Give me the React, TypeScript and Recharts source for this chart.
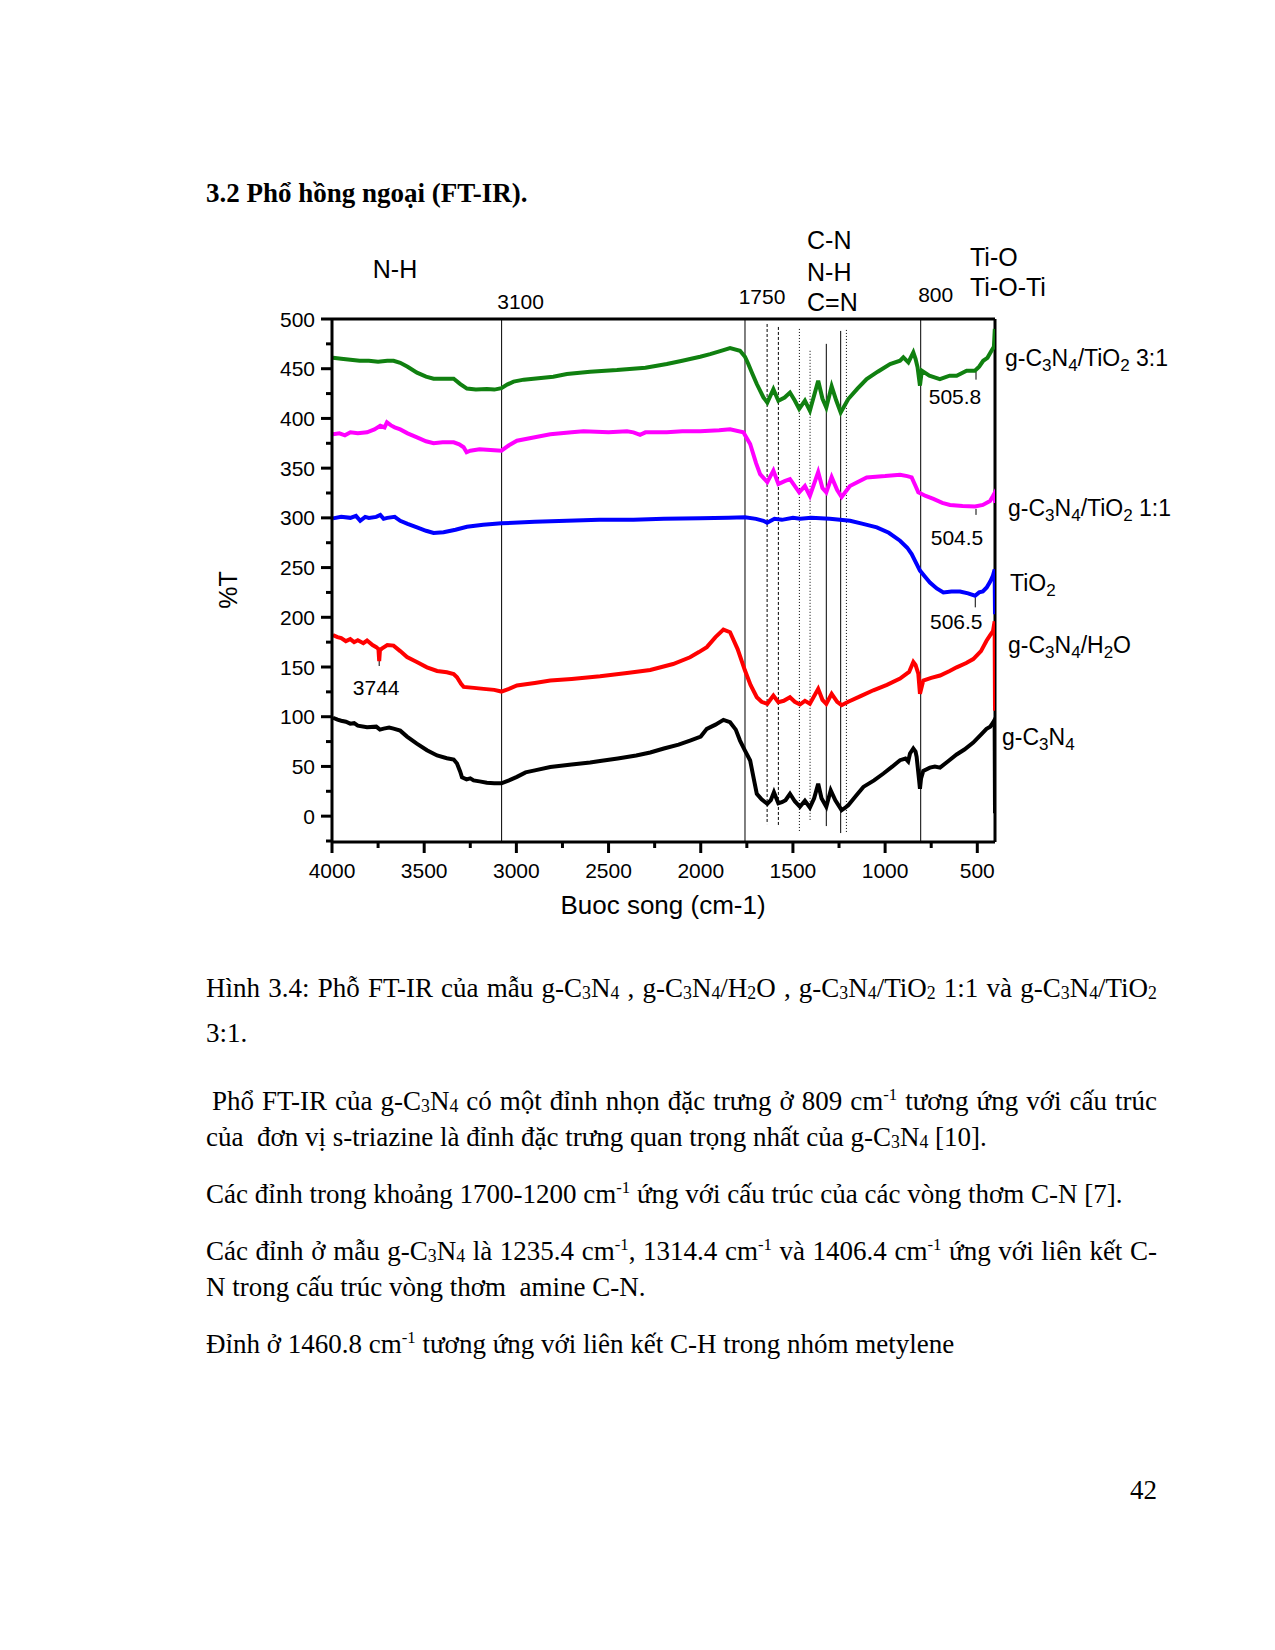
import React from 'react';
import { LineChart, Line, XAxis, YAxis, ReferenceLine, ReferenceDot } from 'recharts';

// wavenumber (cm-1), %T
const gc3n4: [number, number][] = [
  [3995, 99], [3970, 97], [3950, 96], [3925, 95], [3901, 93], [3880, 93.5], [3860, 91], [3810, 89.4], [3760, 90],
  [3740, 87], [3720, 88], [3690, 89], [3666, 88], [3630, 86],
  [3593, 80], [3540, 73], [3485, 66.3], [3430, 61], [3377, 58.3], [3340, 57], [3322, 53], [3305, 45], [3295, 39],
  [3270, 37], [3250, 38], [3232, 36], [3200, 35], [3160, 33.6], [3120, 33], [3081, 33], [3040, 36], [2997, 39.5],
  [2950, 44], [2900, 46], [2816, 49.5], [2700, 52], [2600, 54], [2546, 55.5], [2450, 58], [2350, 61], [2274, 64],
  [2200, 68], [2120, 72], [2058, 76], [2000, 80], [1967, 87.8], [1920, 92], [1877, 96.8], [1841, 94.5], [1810, 87],
  [1787, 76], [1760, 66], [1732, 56], [1715, 40], [1696, 22.5], [1670, 17], [1650, 14], [1639, 12.4], [1620, 16],
  [1603, 24], [1590, 18], [1579, 13], [1560, 14], [1540, 16], [1516, 22.5], [1490, 15], [1462, 9.4], [1435, 15.5],
  [1408, 8.7], [1385, 18], [1363, 32.6], [1345, 18], [1319, 9.4], [1295, 26], [1270, 16], [1236, 6], [1220, 8],
  [1200, 11], [1160, 20], [1118, 29.4], [1060, 36], [1009, 42.9], [960, 50], [919, 56.3], [890, 58], [875, 55],
  [865, 63], [847, 68], [835, 65], [829, 59.6], [815, 35], [811, 27.5], [805, 38], [793, 45.5], [757, 48.8],
  [730, 50], [702, 48.8], [660, 55], [612, 62], [570, 67], [522, 74], [480, 82], [450, 87.8], [430, 90],
  [415, 94], [406, 97], [404, 3],
];

const gc3n4H2o: [number, number][] = [
  [3995, 182], [3970, 180], [3950, 179], [3925, 176], [3901, 178], [3880, 175], [3860, 177], [3830, 174],
  [3810, 176.6], [3780, 172], [3760, 170], [3748, 168],
  [3744, 156], [3740, 167], [3730, 168.5], [3700, 172], [3666, 171.5], [3630, 166], [3593, 160], [3540, 155],
  [3485, 149.7], [3430, 146], [3377, 144.7], [3340, 143], [3322, 139.7], [3300, 133], [3286, 130], [3230, 129],
  [3178, 128], [3120, 127], [3081, 125.3], [3040, 128], [2997, 131.4], [2900, 134], [2816, 136.4], [2700, 138],
  [2546, 140.7], [2400, 144], [2274, 147], [2150, 153], [2058, 159.8], [2010, 165], [1967, 170], [1920, 180],
  [1877, 187.6], [1841, 185], [1800, 168], [1760, 146.4], [1730, 132], [1696, 119.6], [1670, 115], [1639, 113],
  [1606, 121.3], [1579, 114.6], [1550, 116], [1516, 119.6], [1490, 115], [1462, 112.3], [1435, 116], [1408, 113],
  [1363, 128], [1340, 117], [1319, 113], [1290, 123], [1260, 115], [1236, 111.6], [1200, 115], [1130, 121],
  [1064, 126.6], [990, 132], [919, 138.3], [870, 145], [847, 155], [835, 152], [820, 143.3], [811, 123],
  [793, 136.4], [750, 139], [702, 141.4], [650, 146], [612, 149.7], [560, 154], [522, 158], [480, 166],
  [450, 176.4], [430, 182], [415, 186], [406, 196], [404, 106],
];

const tio2: [number, number][] = [
  [3995, 299.5], [3950, 301], [3900, 300], [3870, 302], [3847, 297], [3820, 301], [3800, 300], [3760, 301],
  [3738, 303], [3720, 299], [3700, 300],
  [3660, 301], [3630, 297], [3590, 294], [3539, 290.5], [3490, 287], [3449, 284.8], [3395, 285.5], [3330, 288],
  [3268, 291], [3180, 293], [3081, 294.5], [2900, 296], [2726, 297], [2550, 298], [2365, 298], [2200, 299],
  [2003, 299.5], [1850, 300], [1760, 300.5], [1700, 299], [1660, 297], [1640, 295], [1600, 299], [1560, 298],
  [1500, 300], [1460, 299], [1400, 300], [1300, 299], [1190, 297], [1120, 294], [1045, 290.4], [980, 285],
  [919, 277], [880, 270], [856, 263.6], [830, 254], [811, 247], [780, 240], [757, 235], [720, 229], [684, 225],
  [640, 226], [594, 226], [550, 224], [512, 221.7], [490, 225], [470, 226], [449, 230], [430, 236], [415, 242],
  [406, 248], [404, 203],
];

const gc3n4Tio2_11: [number, number][] = [
  [3995, 384], [3960, 385], [3930, 383], [3900, 386], [3860, 385], [3810, 386], [3770, 389], [3738, 392.6],
  [3715, 391], [3702, 396], [3680, 393], [3660, 391], [3630, 389], [3590, 385], [3539, 381], [3490, 377],
  [3449, 375], [3400, 376], [3340, 376], [3310, 374], [3286, 371], [3270, 366], [3250, 367.5], [3200, 369],
  [3160, 368.5], [3120, 368], [3081, 367.5], [3040, 373], [2997, 377.6], [2900, 381], [2816, 384], [2700, 386],
  [2636, 387], [2500, 386], [2400, 387], [2365, 386], [2329, 383.5], [2300, 386], [2184, 386], [2100, 387],
  [2003, 387], [1900, 388], [1841, 389], [1769, 386], [1732, 374.3], [1700, 355], [1678, 344], [1639, 336],
  [1606, 347.5], [1579, 334], [1545, 337], [1516, 339], [1466, 325.7], [1435, 332], [1408, 322], [1363, 346],
  [1340, 330], [1319, 325.7], [1290, 341], [1260, 328], [1236, 321], [1191, 332], [1100, 340.7], [1000, 342],
  [919, 343.4], [880, 342], [856, 340.7], [835, 332], [820, 325.7], [780, 322], [738, 319], [690, 315],
  [648, 313], [580, 312], [512, 311.4], [470, 313], [431, 317], [415, 322], [406, 325], [404, 315],
];

const gc3n4Tio2_31: [number, number][] = [
  [3995, 461], [3950, 460], [3900, 459], [3850, 458], [3800, 458], [3750, 457], [3700, 458], [3666, 458],
  [3630, 456], [3590, 452], [3539, 446], [3490, 442], [3449, 440], [3400, 440], [3340, 440], [3304, 434.6],
  [3268, 430], [3220, 429], [3160, 429.5], [3120, 429], [3081, 430.5], [3050, 434], [3015, 437], [2960, 439],
  [2907, 440], [2800, 442], [2726, 444.6], [2600, 447], [2455, 448.6], [2300, 451], [2184, 454.7], [2100, 458],
  [2058, 459.7], [2003, 462], [1949, 464.7], [1890, 468], [1841, 470.7], [1787, 468], [1760, 462], [1742, 454.7],
  [1720, 445], [1696, 434.6], [1660, 421.2], [1639, 416], [1606, 429.5], [1579, 417.8], [1545, 421], [1516, 426],
  [1490, 418], [1466, 409.5], [1435, 417.8], [1408, 407.8], [1363, 437.9], [1340, 420], [1319, 411], [1290, 432.3],
  [1265, 418], [1241, 406], [1200, 419.5], [1150, 430], [1100, 439.6], [1040, 447], [973, 454.7], [919, 458],
  [901, 461.4], [874, 456.4], [847, 466.4], [835, 460], [824, 451.4], [811, 433], [801, 448], [760, 443],
  [703, 439.6], [650, 443], [612, 443], [558, 448], [513, 448], [490, 452], [468, 458], [445, 461], [423, 468],
  [410, 472], [405, 490], [404, 478],
];

const xTicks = [4000, 3750, 3500, 3250, 3000, 2750, 2500, 2250, 2000, 1750, 1500, 1250, 1000, 750, 500];
const xLabels = [4000, 3500, 3000, 2500, 2000, 1500, 1000, 500];
const yTicks = [-25, 0, 25, 50, 75, 100, 125, 150, 175, 200, 225, 250, 275, 300, 325, 350, 375, 400, 425, 450, 475, 500];
const yLabels = [0, 50, 100, 150, 200, 250, 300, 350, 400, 450, 500];

// marked band positions
const fullLines = [3080, 1760, 807];
const bandLines: [number, number, number][] = [
  [1640, 495, -8], [1579, 492, -10], [1465, 490, -15], [1407, 468, -5], [1319, 475, -10], [1241, 488, -17], [1210, 489, -16],
];
const bandDash = ['3 2', '3 2', '1 2', '1 2', undefined, undefined, '1 2'];
const topNotes: [number, string][] = [[3080, '3100'], [1760, '1750'], [807, '800']];
const peakNotes: [number, number, number, string][] = [
  [507, 447, 439, '505.8'], [507, 309, 303, '504.5'], [511, 220, 210, '506.5'], [3744, 159, 151, '3744'],
];

const sans = '"Liberation Sans", Arial, Helvetica, sans-serif';
const serif = '"Liberation Serif", "Times New Roman", serif';

const toXY = (arr: [number, number][]) => arr.map(([x, y]) => ({ x, y }));

const XTick = (props: any) => {
  const { x, y, payload } = props;
  const major = xLabels.includes(payload.value);
  return (
    <g>
      <line x1={x} x2={x} y1={y} y2={y + (major ? 11 : 6)} stroke="#000" strokeWidth={3} />
      {major && (
        <text x={x} y={y + 36} textAnchor="middle" fontSize={21} fontFamily={sans} fill="#000">
          {payload.value}
        </text>
      )}
    </g>
  );
};

const YTick = (props: any) => {
  const { x, y, payload } = props;
  const major = yLabels.includes(payload.value);
  return (
    <g>
      <line x1={x} x2={x - (major ? 11 : 6)} y1={y} y2={y} stroke="#000" strokeWidth={3} />
      {major && (
        <text x={x - 17} y={y + 7.5} textAnchor="end" fontSize={21} fontFamily={sans} fill="#000">
          {payload.value}
        </text>
      )}
    </g>
  );
};

const noteLabel = (text: string, dx: number, dy: number) => (props: any) => {
  const vb = props.viewBox || {};
  return (
    <text x={(vb.x || 0) + dx} y={(vb.y || 0) + dy} textAnchor="middle" fontSize={21} fontFamily={sans} fill="#000">
      {text}
    </text>
  );
};

const topOffsets = [[19, -10.5], [17, -15], [15, -17.5]];
const peakOffsets = [[-21, 24.5], [-19, 30], [-19, 22], [-3, 29]];

const Sub = ({ children }: any) => (
  <sub style={{ fontSize: '0.74em', verticalAlign: '-0.35em', lineHeight: 0 }}>{children}</sub>
);
const SmallSub = ({ children }: any) => (
  <sub style={{ fontSize: '0.66em', verticalAlign: '-0.15em', lineHeight: 0 }}>{children}</sub>
);
const Sup = ({ children }: any) => (
  <sup style={{ fontSize: '0.62em', verticalAlign: '0.55em', lineHeight: 0 }}>{children}</sup>
);

const Tag = ({ x, y, size, center, children }: any) => (
  <div
    style={{
      position: 'absolute',
      left: x - 8,
      top: y - 8,
      transform: `translate(${center ? '-50%' : '0'}, -50%)`,
      fontSize: size,
      lineHeight: 1,
      fontFamily: sans,
      whiteSpace: 'nowrap',
      color: '#000',
    }}
  >
    {children}
  </div>
);

const TextLine = ({ y, justify, bold, indent, children }: any) => (
  <div
    style={{
      position: 'absolute',
      left: 206 - 8 + (indent || 0),
      top: y - 8,
      width: 951 - (indent || 0),
      transform: 'translateY(-50%)',
      fontFamily: serif,
      fontSize: 27,
      fontWeight: bold ? 'bold' : 'normal',
      lineHeight: 1,
      textAlign: justify ? 'justify' : 'left',
      textAlignLast: justify ? 'justify' : 'auto',
      color: '#000',
    }}
  >
    {children}
  </div>
);

const C3N4 = () => (
  <>
    C<SmallSub>3</SmallSub>N<SmallSub>4</SmallSub>
  </>
);

export default function App() {
  return (
    <div style={{ position: 'relative', width: 1259, height: 1634, background: '#fff' }}>
      <TextLine y={193} bold>3.2 Phổ hồng ngoại (FT-IR).</TextLine>

      <div style={{ position: 'absolute', left: 0, top: 0 }}>
        <LineChart width={1259} height={1000} margin={{ top: 311, right: 272, bottom: 136, left: 264 }}>
          <XAxis
            dataKey="x"
            type="number"
            domain={[404, 4000]}
            reversed
            allowDataOverflow
            ticks={xTicks}
            interval={0}
            tickSize={0}
            tickMargin={0}
            tickLine={false}
            tick={<XTick />}
            axisLine={{ stroke: '#000', strokeWidth: 3 }}
            height={30}
          />
          <YAxis
            type="number"
            domain={[-26, 500]}
            allowDataOverflow
            ticks={yTicks}
            interval={0}
            tickSize={0}
            tickMargin={0}
            tickLine={false}
            tick={<YTick />}
            axisLine={{ stroke: '#000', strokeWidth: 3 }}
            width={60}
          />
          <ReferenceLine y={500} stroke="#000" strokeWidth={3} />
          <ReferenceLine x={404} stroke="#000" strokeWidth={3} />
          {fullLines.map((v) => (
            <ReferenceLine key={'f' + v} x={v} stroke="#000" strokeWidth={1} />
          ))}
          {bandLines.map(([v, y1, y2], i) => (
            <ReferenceLine
              key={'b' + v}
              segment={[{ x: v, y: y1 }, { x: v, y: y2 }]}
              stroke="#000"
              strokeWidth={1}
              strokeDasharray={bandDash[i]}
            />
          ))}
          {peakNotes.map(([v, y1, y2]) => (
            <ReferenceLine key={'p' + v + y1} segment={[{ x: v, y: y1 }, { x: v, y: y2 }]} stroke="#000" strokeWidth={1} />
          ))}
          <Line data={toXY(gc3n4)} dataKey="y" stroke="#000000" strokeWidth={4} dot={false} isAnimationActive={false} />
          <Line data={toXY(gc3n4H2o)} dataKey="y" stroke="#ff0000" strokeWidth={4} dot={false} isAnimationActive={false} />
          <Line data={toXY(tio2)} dataKey="y" stroke="#0000ff" strokeWidth={4} dot={false} isAnimationActive={false} />
          <Line data={toXY(gc3n4Tio2_11)} dataKey="y" stroke="#ff00ff" strokeWidth={4} dot={false} isAnimationActive={false} />
          <Line data={toXY(gc3n4Tio2_31)} dataKey="y" stroke="#108010" strokeWidth={4} dot={false} isAnimationActive={false} />
          {topNotes.map(([v, t], i) => (
            <ReferenceDot
              key={'t' + v}
              x={v}
              y={500}
              r={0}
              ifOverflow="visible"
              fill="none"
              stroke="none"
              label={noteLabel(t, topOffsets[i][0], topOffsets[i][1])}
            />
          ))}
          {peakNotes.map(([v, , y2, t], i) => (
            <ReferenceDot
              key={'n' + t}
              x={v}
              y={y2}
              r={0}
              ifOverflow="visible"
              fill="none"
              stroke="none"
              label={noteLabel(t, peakOffsets[i][0], peakOffsets[i][1])}
            />
          ))}
        </LineChart>
      </div>

      <Tag x={395} y={269} size={25} center>N-H</Tag>
      <Tag x={807} y={240} size={25}>C-N</Tag>
      <Tag x={807} y={272} size={25}>N-H</Tag>
      <Tag x={807} y={302} size={25}>C=N</Tag>
      <Tag x={970} y={257} size={25}>Ti-O</Tag>
      <Tag x={970} y={287} size={25}>Ti-O-Ti</Tag>

      <Tag x={1005} y={358} size={23}>g-C<Sub>3</Sub>N<Sub>4</Sub>/TiO<Sub>2</Sub> 3:1</Tag>
      <Tag x={1008} y={508} size={23}>g-C<Sub>3</Sub>N<Sub>4</Sub>/TiO<Sub>2</Sub> 1:1</Tag>
      <Tag x={1010} y={583} size={23}>TiO<Sub>2</Sub></Tag>
      <Tag x={1008} y={645} size={23}>g-C<Sub>3</Sub>N<Sub>4</Sub>/H<Sub>2</Sub>O</Tag>
      <Tag x={1002} y={737} size={23}>g-C<Sub>3</Sub>N<Sub>4</Sub></Tag>

      <div
        style={{
          position: 'absolute',
          left: 228 - 8,
          top: 590 - 8,
          transform: 'translate(-50%, -50%) rotate(-90deg)',
          fontFamily: sans,
          fontSize: 25,
          lineHeight: 1,
          whiteSpace: 'nowrap',
        }}
      >
        %T
      </div>
      <Tag x={663} y={905} size={26} center>Buoc song (cm-1)</Tag>

      <TextLine y={988} justify>
        Hình 3.4: Phỗ FT-IR của mẫu g-<C3N4 /> , g-<C3N4 />/H<SmallSub>2</SmallSub>O , g-<C3N4 />/TiO<SmallSub>2</SmallSub> 1:1 và g-<C3N4 />/TiO<SmallSub>2</SmallSub>
      </TextLine>
      <TextLine y={1033}>3:1.</TextLine>
      <TextLine y={1101} justify indent={6}>
        Phổ FT-IR của g-<C3N4 /> có một đỉnh nhọn đặc trưng ở 809 cm<Sup>-1</Sup> tương ứng với cấu trúc
      </TextLine>
      <TextLine y={1137}>
        của&nbsp; đơn vị s-triazine là đỉnh đặc trưng quan trọng nhất của g-<C3N4 /> [10].
      </TextLine>
      <TextLine y={1194}>
        Các đỉnh trong khoảng 1700-1200 cm<Sup>-1</Sup> ứng với cấu trúc của các vòng thơm C-N [7].
      </TextLine>
      <TextLine y={1251} justify>
        Các đỉnh ở mẫu g-<C3N4 /> là 1235.4 cm<Sup>-1</Sup>, 1314.4 cm<Sup>-1</Sup> và 1406.4 cm<Sup>-1</Sup> ứng với liên kết C-
      </TextLine>
      <TextLine y={1287}>N trong cấu trúc vòng thơm&nbsp; amine C-N.</TextLine>
      <TextLine y={1344}>
        Đỉnh ở 1460.8 cm<Sup>-1</Sup> tương ứng với liên kết C-H trong nhóm metylene
      </TextLine>
      <div
        style={{
          position: 'absolute',
          left: 1130 - 8,
          top: 1490 - 8,
          width: 27,
          transform: 'translateY(-50%)',
          fontFamily: serif,
          fontSize: 27,
          lineHeight: 1,
          textAlign: 'right',
        }}
      >
        42
      </div>
    </div>
  );
}
